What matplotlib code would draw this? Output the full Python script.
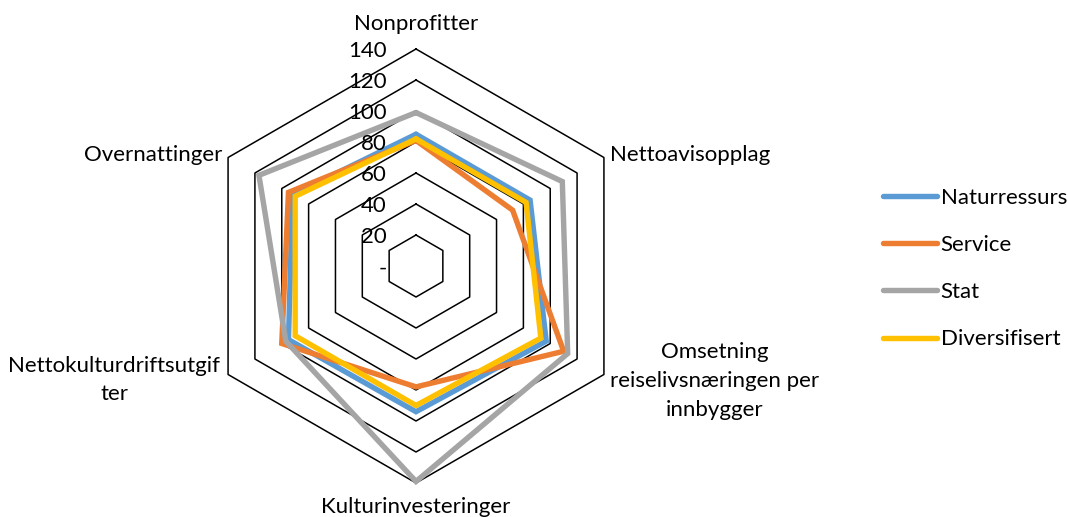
import numpy as np
import matplotlib.pyplot as plt

categories = ["Nonprofitter", "Nettoavisopplag",
              "Omsetning\nreiselivsnæringen per\ninnbygger",
              "Kulturinvesteringer", "Nettokulturdriftsutgif\nter", "Overnattinger"]
naturressurs = [85, 85, 97, 94, 95, 92]
service = [81, 72, 110, 78, 100, 95]
stat = [99, 109, 113, 139, 97, 117]
diversifisert = [82, 82, 93, 90, 90, 90]
grid_values = [20, 40, 60, 80, 100, 120, 140]
tick_labels = ["-", "20", "40", "60", "80", "100", "120", "140"]

series = [("Naturressurs", naturressurs, "#5B9BD5"),
          ("Service", service, "#ED7D31"),
          ("Stat", stat, "#A5A5A5"),
          ("Diversifisert", diversifisert, "#FFC000")]

plt.rcParams['font.family'] = ['Lato', 'DejaVu Sans']
fs = 16

# spokes clockwise starting at the top
angles = np.deg2rad(90 - 60 * np.arange(len(categories)))

def to_xy(vals):
    v = np.append(vals, vals[0])
    a = np.append(angles, angles[0])
    return v * np.cos(a), v * np.sin(a)

W, H = 1068, 517
px = 1.55  # pixels per unit
cx, cy = 416, 266
fig = plt.figure(figsize=(W / 100, H / 100), dpi=100)
ax = fig.add_axes([0, 0, 1, 1])
ax.set_xlim(-cx / px, (W - cx) / px)
ax.set_ylim(-(H - cy) / px, cy / px)
ax.axis('off')

for g in grid_values:
    x, y = to_xy([g] * len(categories))
    ax.plot(x, y, color='black', lw=1.1, zorder=1)

for lab, g in zip(tick_labels, [0] + grid_values):
    ax.text(-19, g - 1.5, lab, ha='right', va='center', fontsize=fs, zorder=5)

for name, vals, col in series:
    x, y = to_xy(vals)
    ax.plot(x, y, color=col, lw=3.9, label=name, solid_joinstyle='miter',
            solid_capstyle='round', zorder=3)

def P(xp, yp):
    return (xp - cx) / px, (cy - yp) / px

ax.text(*P(416, 24), categories[0], ha='center', va='center', fontsize=fs)
ax.text(*P(610, 155), categories[1], ha='left', va='center', fontsize=fs)
ax.text(*P(715, 381), categories[2], ha='center', va='center', fontsize=fs,
        multialignment='center', linespacing=1.55)
ax.text(*P(416, 507), categories[3], ha='center', va='center', fontsize=fs)
ax.text(*P(220, 380), categories[4], ha='right', va='center', fontsize=fs,
        multialignment='center', linespacing=1.55)
ax.text(*P(222, 155), categories[5], ha='right', va='center', fontsize=fs)

ax.legend(loc='upper left', bbox_to_anchor=(883 / W, 1 - 188 / H), frameon=False,
          fontsize=fs, handlelength=2.45, handletextpad=0.15, labelspacing=1.22,
          borderpad=0, borderaxespad=0)

fig.savefig("out.png", dpi=100)
